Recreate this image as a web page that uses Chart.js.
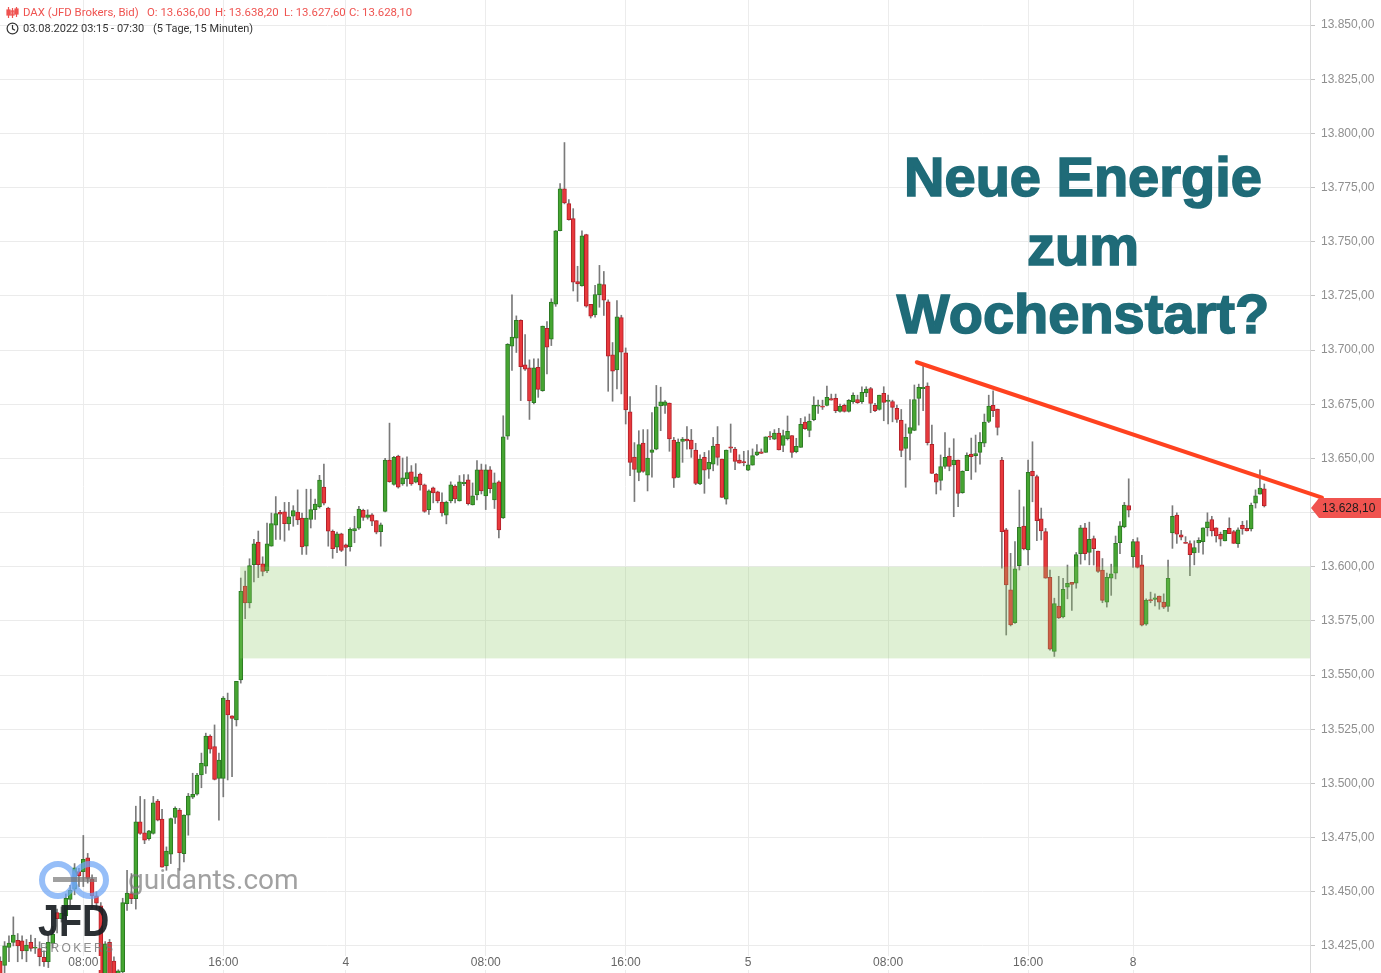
<!DOCTYPE html>
<html lang="de">
<head>
  <meta charset="UTF-8">
  <title>DAX 15 Minuten</title>
  <script src="https://cdn.jsdelivr.net/npm/chart.js"></script>
  <style>
    html, body { margin: 0; padding: 0; background: #fff; overflow: hidden; }
    #wrap { position: relative; width: 1381px; height: 973px; }
    #wrap canvas { position: absolute; left: 0; top: 0; }
    .hd { position: absolute; font-family: Roboto, Arial, sans-serif; font-size: 11.4px; white-space: pre; line-height: 13px; }
    .red { color: #ef5350; }
    .dark { color: #333; font-size: 11px; }
    #title { position: absolute; left: 870px; width: 426px; top: 143px; text-align: center;
      font-family: "Liberation Sans", Arial, sans-serif; font-weight: bold; font-size: 56px; line-height: 68.5px;
      color: #1f6b78; -webkit-text-stroke: 1.6px #1f6b78; }
    .wm { position: absolute; pointer-events: none; }
    #gd-text { left: 128px; top: 866px; font-family: Roboto, Arial, sans-serif; font-size: 28px; line-height: 28px; color: rgba(125,125,125,0.72); }
    .ring { width: 26px; height: 26px; border: 6px solid rgba(110,165,245,0.72); border-radius: 50%; top: 861px; }
    #dash { left: 53px; top: 877px; width: 44px; height: 5px; background: rgba(120,120,120,0.7); }
    #jfd { left: 38px; top: 898px; font-family: "Liberation Sans", Arial, sans-serif; font-weight: bold; font-size: 45px; line-height: 45px;
      color: rgba(25,30,35,0.92); transform: scaleX(0.84); transform-origin: left top; }
    #brokers { left: 40px; top: 941px; font-family: "Liberation Sans", Arial, sans-serif; font-size: 12px; letter-spacing: 2.4px; color: rgba(120,120,120,0.85); }
  </style>
</head>
<body>
<div id="wrap">
  <canvas id="chart"></canvas>

  <svg class="hd" style="left:6px;top:6px" width="13" height="13" viewBox="0 0 13 13">
    <g stroke="#ef5350" stroke-width="1.2" fill="none">
      <line x1="2.5" y1="1" x2="2.5" y2="12"/><rect x="1" y="4" width="3" height="5" fill="#ef5350"/>
      <line x1="6.5" y1="2" x2="6.5" y2="12"/><rect x="5" y="5" width="3" height="4"/>
      <line x1="10.5" y1="1" x2="10.5" y2="11"/><rect x="9" y="3" width="3" height="5" fill="#ef5350"/>
    </g>
  </svg>
  <span class="hd red" style="left:23px;top:6px">DAX (JFD Brokers, Bid)</span>
  <span class="hd red" style="left:147px;top:6px">O: 13.636,00</span>
  <span class="hd red" style="left:215px;top:6px">H: 13.638,20</span>
  <span class="hd red" style="left:284px;top:6px">L: 13.627,60</span>
  <span class="hd red" style="left:349px;top:6px">C: 13.628,10</span>

  <svg class="hd" style="left:6px;top:22px" width="13" height="13" viewBox="0 0 13 13">
    <circle cx="6.5" cy="6.5" r="5.4" stroke="#333" stroke-width="1.2" fill="none"/>
    <polyline points="6.5,3 6.5,6.8 9,8.3" stroke="#333" stroke-width="1.2" fill="none"/>
  </svg>
  <span class="hd dark" style="left:23px;top:22px">03.08.2022 03:15 - 07:30</span>
  <span class="hd dark" style="left:153px;top:22px">(5 Tage, 15 Minuten)</span>

  <div class="wm ring" style="left:39px"></div>
  <div class="wm ring" style="left:71px"></div>
  <div class="wm" id="dash"></div>
  <div class="wm" id="gd-text">guidants.com</div>
  <div class="wm" id="jfd">JFD</div>
  <div class="wm" id="brokers">BROKERS</div>

  <div id="title">Neue Energie<br>zum<br>Wochenstart?</div>
</div>

<script>
// DAX 15-Minuten-Kerzen, 03.08.2022 03:15 bis 08.08.2022 07:30 (Index 0..289)
const open = [
  13418, 13416, 13424.3, 13426.6, 13427.6, 13427.3, 13422.7, 13426.6, 13424, 13423.8,
  13419.7, 13417.7, 13426.1, 13440.4, 13437.6, 13438.9, 13446.5, 13451.2, 13459.3, 13459.3,
  13465.7, 13455.8, 13448.1, 13443.5, 13402, 13426.6, 13418, 13406, 13413, 13444.5,
  13449.1, 13446.8, 13482.3, 13477.2, 13474.5, 13476.9, 13491.8, 13483.5, 13461.9, 13467.3,
  13484.3, 13487.7, 13467.6, 13485.4, 13493.7, 13495, 13503.9, 13508, 13521.9, 13517,
  13502.3, 13502.3, 13538.3, 13531.2, 13529.3, 13547.8, 13591.1, 13583.3, 13601, 13611.4,
  13601.4, 13598.1, 13609.5, 13619.2, 13625.1, 13625.4, 13619.8, 13623.3, 13625.3, 13622.5,
  13609.5, 13621.8, 13626.4, 13627.7, 13636.8, 13627.1, 13616.4, 13609.1, 13615.2, 13610.1,
  13609.3, 13616.6, 13617.8, 13626.1, 13622.8, 13624, 13621.3, 13616.2, 13625.6, 13649.2,
  13638, 13651.1, 13638.2, 13640.5, 13643.8, 13639, 13642.8, 13637.8, 13626.3, 13636.4,
  13634.6, 13629.9, 13623.8, 13630.4, 13637.3, 13630.4, 13638.4, 13640.1, 13628.6, 13633.2,
  13644.7, 13632.7, 13644.7, 13630.9, 13639.2, 13622.6, 13660.3, 13701.8, 13705.5, 13713.8,
  13693.2, 13691.8, 13675.8, 13692.1, 13681.3, 13710.1, 13705.1, 13721.2, 13755.1, 13774.4,
  13767.6, 13760.7, 13731.6, 13729.6, 13753.3, 13721.1, 13716.2, 13725.6, 13730.2, 13722.3,
  13697.8, 13690.9, 13715, 13698.7, 13671.5, 13650.6, 13643.6, 13657.1, 13642.3, 13652.8,
  13654.3, 13674.2, 13674.5, 13675.6, 13658.5, 13641.2, 13657.9, 13658.9, 13658.5, 13653.9,
  13638.2, 13650.5, 13645.1, 13647.4, 13656.5, 13649.7, 13631.2, 13655.4, 13654.3, 13649.3,
  13648.5, 13644.6, 13646.9, 13651.6, 13653.1, 13652.8, 13660.3, 13658.9, 13661.7, 13656,
  13659.1, 13660.6, 13653.1, 13655.1, 13666.8, 13662.9, 13667.9, 13674.1, 13674.2, 13674.5,
  13677.6, 13677.7, 13671.7, 13674.5, 13671.7, 13676.2, 13677.2, 13676.2, 13680.3, 13682.3,
  13674.5, 13672.6, 13680, 13676.3, 13676.3, 13673.1, 13667.6, 13654.6, 13661.6, 13662.9,
  13677.7, 13682.2, 13683.4, 13656.5, 13642.7, 13639.9, 13646.3, 13651.1, 13647, 13649.3,
  13634.2, 13644.3, 13652, 13651.3, 13652.8, 13657, 13667.1, 13674.5, 13672.8, 13649.3,
  13617, 13589.3, 13574.2, 13600.5, 13618.8, 13607.8, 13644, 13641.6, 13622.1, 13616.2,
  13595.1, 13560.9, 13581.9, 13576.8, 13590.6, 13592.8, 13592.4, 13606.1, 13618, 13606.6,
  13613, 13607.3, 13598.5, 13583.7, 13594.7, 13597, 13611.1, 13618.4, 13628.2, 13604.7,
  13611.6, 13600.9, 13573.5, 13584.8, 13584.9, 13586.5, 13583.7, 13581.7, 13615.6, 13623.9,
  13614.8, 13611.1, 13610.7, 13606.4, 13611, 13611.6, 13618, 13621.8, 13618, 13615,
  13611.9, 13617.7, 13616.2, 13610.7, 13619.1, 13617.7, 13617.5, 13629.4, 13633.5, 13636
];
const high = [
  13420, 13427, 13429.6, 13438.4, 13430.7, 13429.7, 13428, 13430, 13428.5, 13426.9,
  13422.7, 13430, 13434, 13442, 13443, 13449, 13453, 13463, 13460.8, 13476,
  13467.7, 13457.8, 13450, 13445, 13427, 13428, 13420, 13414, 13447, 13459.9,
  13458.4, 13489.5, 13494, 13492.6, 13478.4, 13494, 13492.6, 13488, 13470.7, 13484,
  13489.2, 13488.5, 13485.5, 13495.4, 13504.7, 13504.7, 13514, 13523.2, 13522.4, 13527,
  13514, 13540.1, 13541.7, 13531.2, 13547.1, 13594.8, 13598, 13603.7, 13612.7, 13616.5,
  13604.6, 13620.2, 13624.8, 13632.4, 13626, 13629.7, 13629.7, 13628.2, 13635.5, 13624.8,
  13635.8, 13635.8, 13631.2, 13642.2, 13647.4, 13627.5, 13617, 13616, 13615.5, 13610.5,
  13618, 13623.3, 13627.9, 13626.6, 13626.3, 13624.5, 13621.3, 13620.2, 13650, 13666.3,
  13651, 13651.5, 13650.2, 13650.7, 13646.7, 13647.6, 13643.3, 13638.2, 13635.5, 13636.8,
  13634.9, 13634.1, 13630.3, 13639.2, 13637.8, 13642.1, 13642.5, 13642.5, 13638.7, 13649,
  13647.4, 13647.1, 13646.3, 13643.3, 13639.7, 13669.7, 13703, 13725.5, 13715.8, 13714,
  13707.2, 13695.5, 13696, 13696, 13711.1, 13713.2, 13723.7, 13755.2, 13776.9, 13795.8,
  13769.5, 13765.3, 13738.7, 13755, 13753.5, 13721.1, 13729.9, 13739.1, 13736.3, 13723.2,
  13703.5, 13722.9, 13716.1, 13701, 13678.5, 13657.3, 13662.8, 13663.3, 13663.3, 13671.2,
  13683.7, 13682.9, 13676.7, 13675.6, 13659.7, 13659, 13659.7, 13664.7, 13663.4, 13657,
  13651.7, 13652.8, 13653.6, 13659.7, 13664.7, 13649.7, 13653.9, 13665.9, 13655.1, 13651.7,
  13653.3, 13653.6, 13654.4, 13656.4, 13654.4, 13660, 13662.4, 13663.3, 13663.9, 13663.1,
  13669.6, 13660.6, 13659.3, 13668.5, 13669.2, 13670.5, 13678.5, 13676.9, 13676.9, 13683.4,
  13679.7, 13679.7, 13675.1, 13675.1, 13677.2, 13680.3, 13679.2, 13683.1, 13683.1, 13682.8,
  13675.4, 13679.2, 13683.1, 13679.2, 13676.9, 13674.6, 13672.6, 13665.9, 13677.2, 13683.9,
  13684.3, 13693.1, 13684.9, 13665.4, 13643.1, 13651.6, 13661.9, 13654.8, 13659.1, 13649.3,
  13644.3, 13652.6, 13659.4, 13660.8, 13661.9, 13670.5, 13679.2, 13681.2, 13672.8, 13650.5,
  13617.7, 13606.2, 13611.6, 13635.4, 13627.7, 13649.3, 13657.7, 13642.3, 13627.1, 13617.7,
  13598.5, 13585.5, 13595.6, 13594.7, 13600.8, 13592.8, 13606.6, 13619.1, 13620, 13620.6,
  13614.2, 13607.3, 13603.8, 13597.1, 13601.2, 13614.2, 13620.9, 13629.7, 13640.6, 13612.7,
  13613.4, 13605.3, 13585.2, 13588.3, 13587.5, 13586.5, 13587.5, 13603.1, 13628.2, 13624.9,
  13616.8, 13613.9, 13612, 13612, 13613.4, 13618, 13624.9, 13623.3, 13618, 13616,
  13616.8, 13622.6, 13616.8, 13618, 13621, 13621.3, 13629.4, 13635.5, 13644.7, 13638.2
];
const low = [
  13408, 13412, 13417.7, 13425, 13417.7, 13419, 13417.7, 13422.6, 13421.5, 13415.8,
  13415.5, 13415, 13424, 13431, 13436, 13437, 13444, 13448.6, 13452.4, 13452.4,
  13454, 13442.5, 13441.8, 13396, 13398, 13400, 13396, 13400, 13410, 13441.4,
  13444.5, 13442, 13476.5, 13472.2, 13473.8, 13476.6, 13482.7, 13461.4, 13459.9, 13463,
  13481.5, 13459.9, 13463.8, 13476.1, 13493, 13494.6, 13498, 13504.6, 13514, 13501.6,
  13483, 13493.8, 13501.6, 13503.1, 13526.5, 13546.3, 13576, 13581, 13593, 13595,
  13595.8, 13597.3, 13609.5, 13612.6, 13612.6, 13611.8, 13616.9, 13618.7, 13619.5, 13605.7,
  13605.7, 13617.9, 13621.8, 13627.1, 13628.5, 13609.5, 13603.9, 13606.5, 13607, 13600.4,
  13607.2, 13611.1, 13617.2, 13621.4, 13622, 13619, 13615.2, 13609.5, 13625.3, 13639,
  13637.7, 13636.3, 13637.6, 13637.2, 13637.6, 13638.7, 13635.3, 13625.1, 13624.2, 13629.5,
  13629.5, 13623.3, 13619.8, 13629.5, 13629.5, 13630.3, 13637.4, 13628.5, 13628.5, 13630.9,
  13633.6, 13626.4, 13634.1, 13626.9, 13613.3, 13622.3, 13658.8, 13690.6, 13698.9, 13676.7,
  13690.6, 13668, 13675.2, 13678.2, 13681, 13689, 13702.1, 13720.2, 13755, 13767.5,
  13760, 13727.3, 13722.5, 13729.5, 13719.8, 13714.8, 13715.2, 13719.8, 13716, 13681,
  13676.4, 13682.1, 13679.8, 13665.9, 13642, 13630.1, 13639.7, 13643.6, 13635, 13641.3,
  13654, 13662.8, 13670.8, 13653.3, 13636.6, 13641.2, 13648.2, 13654.3, 13650.5, 13637.9,
  13637.9, 13633.9, 13640.8, 13644.3, 13646.9, 13632, 13628.9, 13652.8, 13644.8, 13647.8,
  13646.6, 13644.3, 13646.9, 13651.3, 13652.3, 13652.8, 13658.7, 13658.7, 13653.9, 13653.1,
  13658.5, 13650.5, 13652.6, 13655.1, 13663.4, 13660, 13667.4, 13670.8, 13672.6, 13674.2,
  13676.9, 13671.1, 13671.4, 13671.4, 13671.4, 13675.4, 13675.4, 13675.4, 13678.5, 13671.1,
  13671.6, 13672.3, 13667.4, 13665.9, 13666.9, 13666.6, 13650.8, 13636.7, 13649.3, 13662.8,
  13665.4, 13672, 13656.2, 13643.1, 13633.6, 13635.4, 13645.4, 13644.3, 13623.1, 13627.7,
  13633.9, 13644.3, 13640.3, 13643.7, 13647.4, 13655.4, 13666.5, 13669.3, 13660.8, 13599.3,
  13568.5, 13572.7, 13573.9, 13598.5, 13607.8, 13600.8, 13630, 13612.1, 13612.4, 13594.7,
  13561.5, 13558.6, 13576.1, 13576.4, 13585.2, 13579.9, 13590.1, 13601.2, 13603.2, 13600.9,
  13600.8, 13597.4, 13583.4, 13581.4, 13586.8, 13594.4, 13606.1, 13618, 13623, 13599.7,
  13599.4, 13572.7, 13573, 13583.4, 13581.9, 13580.4, 13580.7, 13579.4, 13608.5, 13610.8,
  13612.4, 13610.8, 13595.9, 13600.9, 13606.6, 13605.8, 13614.2, 13614.2, 13611.4, 13609.6,
  13611.9, 13615.3, 13610.8, 13608.9, 13615, 13616.5, 13616.5, 13627.1, 13633.5, 13627.6
];
const close = [
  13412, 13425, 13426.3, 13430, 13425, 13422.7, 13425.4, 13423.8, 13424.5, 13420,
  13417.7, 13426.6, 13430.4, 13437.6, 13440, 13447, 13450.7, 13461.1, 13457.3, 13465,
  13456.1, 13448.1, 13444.7, 13400, 13426, 13405, 13404, 13413.5, 13445, 13449.4,
  13446.8, 13482.3, 13476.9, 13473.8, 13478.1, 13491.1, 13483, 13461.4, 13468.8, 13483.8,
  13488.5, 13468, 13485.4, 13494.2, 13495, 13503.9, 13509.3, 13521.9, 13515.8, 13501.9,
  13510.8, 13539.4, 13531.6, 13530, 13547.1, 13588.7, 13583.3, 13600.6, 13610.6, 13601,
  13597.8, 13610.6, 13619.9, 13624.6, 13624.3, 13619.9, 13623, 13625.9, 13621.6, 13609.2,
  13622.5, 13626.4, 13628.9, 13640, 13629.3, 13616.4, 13608.3, 13615.2, 13607.5, 13608.9,
  13617.3, 13617.6, 13626.6, 13622.8, 13624, 13621, 13616, 13619.4, 13649.2, 13639.3,
  13650.5, 13636.7, 13641, 13643.5, 13638.2, 13641.5, 13637.8, 13625.6, 13635, 13634.1,
  13630.4, 13624.9, 13629.9, 13637.8, 13631.3, 13639.2, 13639, 13629.1, 13632.7, 13644.7,
  13635, 13644.7, 13636, 13638.7, 13617, 13660, 13702.7, 13706, 13713.8, 13692.4,
  13691.2, 13676.5, 13691.8, 13681.9, 13711.1, 13701.4, 13722.2, 13755.1, 13774.4, 13767.9,
  13760.2, 13731.4, 13730.5, 13752.8, 13720.3, 13715.7, 13725.6, 13730.6, 13723.1, 13697.2,
  13690.3, 13715.4, 13699.1, 13672.4, 13648.2, 13644.9, 13656.4, 13644, 13650.2, 13654,
  13673.8, 13676.1, 13676.1, 13659, 13640.9, 13657.6, 13658.9, 13658.1, 13654.3, 13638.5,
  13649.7, 13644.6, 13648.2, 13655.7, 13650.5, 13632, 13653.9, 13654.7, 13648.6, 13647.8,
  13648, 13647.1, 13651.3, 13653, 13652.3, 13660, 13659.8, 13661.7, 13653.9, 13660.6,
  13662.5, 13652.8, 13655.6, 13665.7, 13663.7, 13667.3, 13674.5, 13674.6, 13673.7, 13678.2,
  13676.9, 13672, 13674, 13671.7, 13676.8, 13679.1, 13675.7, 13680.5, 13682, 13675.4,
  13672, 13679.2, 13675.9, 13676.9, 13673.6, 13668, 13653.7, 13659.7, 13664.3, 13677.2,
  13682.8, 13682.8, 13657.3, 13643.1, 13639, 13646.3, 13650.5, 13646.3, 13649.3, 13633.9,
  13644, 13651.4, 13650.8, 13652.3, 13657.4, 13666.8, 13674.2, 13672, 13664.3, 13616.2,
  13591.6, 13573.2, 13599, 13618.2, 13608.2, 13643.6, 13641.9, 13621.3, 13616.5, 13594.7,
  13562, 13583, 13576.4, 13589.6, 13592.4, 13591.8, 13605.6, 13618, 13606.1, 13612.7,
  13608.4, 13597.9, 13584.5, 13595.1, 13596.7, 13610.8, 13618.9, 13628.5, 13626.1, 13611.6,
  13599.7, 13573, 13584.6, 13584.3, 13585.7, 13583.7, 13581.3, 13594.7, 13623.3, 13615.1,
  13613.7, 13610.8, 13605.6, 13608.9, 13612.2, 13618, 13620.7, 13616.5, 13614.2, 13612.7,
  13616.8, 13615.3, 13610.8, 13617.1, 13617.5, 13616.5, 13628.5, 13632.7, 13636.3, 13628.1
];

// Zeitachse: Index der Kerze und Beschriftung
const tickIdx = [19, 51, 79, 111, 143, 171, 203, 235, 259];
const tickLabels = ['08:00', '16:00', '4', '08:00', '16:00', '5', '08:00', '16:00', '8'];

// sichtbarer Bereich
const xMin = -0.05, xMax = 299.45;
const yMin = 13412.5, yMax = 13861.6;

// Unterstuetzungszone und Trendlinie
const zoneFrom = 54.85;
const zoneHigh = 13600, zoneLow = 13557.7;
const trendX = [209.55, 302.2];
const trendY = [13694.4, 13631.9];

const upFill = '#45a531', upLine = '#2b7a22';
const downFill = '#e8393c', downLine = '#b3212a';

function fmt(v, d) {
  let s = v.toFixed(d === undefined ? 2 : d);
  let [a, b] = s.split('.');
  a = a.replace(/\B(?=(\d{3})+(?!\d))/g, '.');
  return a + ',' + b;
}

const up = close.map((c, i) => c >= open[i]);
const bodies = open.map((o, i) => ({ x: i, y: [o, close[i]] }));
const wicks = open.map((o, i) => ({
  x: i,
  y: [Math.min(low[i], o, close[i]), Math.max(high[i], o, close[i])]
}));

const overlay = {
  id: 'overlay',
  afterDatasetsDraw(chart) {
    const { ctx, chartArea, scales: { x, y } } = chart;
    ctx.save();
    const zx = x.getPixelForValue(zoneFrom);
    const zt = y.getPixelForValue(zoneHigh);
    const zb = y.getPixelForValue(zoneLow);
    ctx.fillStyle = 'rgba(140, 200, 100, 0.28)';
    ctx.fillRect(zx, zt, chartArea.right - zx, zb - zt);
    ctx.restore();
  },
  afterDraw(chart) {
    const { ctx, chartArea, scales: { x, y } } = chart;
    ctx.save();
    // Trendlinie
    ctx.strokeStyle = '#ff4220';
    ctx.lineWidth = 4;
    ctx.lineCap = 'round';
    ctx.beginPath();
    ctx.moveTo(x.getPixelForValue(trendX[0]), y.getPixelForValue(trendY[0]));
    ctx.lineTo(x.getPixelForValue(trendX[1]), y.getPixelForValue(trendY[1]));
    ctx.stroke();

    // Zeitachse
    ctx.font = '12px "Liberation Sans", Arial, sans-serif';
    ctx.textAlign = 'center';
    ctx.textBaseline = 'middle';
    tickIdx.forEach((v, k) => {
      const px = x.getPixelForValue(v);
      const w = ctx.measureText(tickLabels[k]).width;
      ctx.fillStyle = '#fff';
      ctx.fillRect(px - w / 2 - 2, 956, w + 4, 14);
      ctx.fillStyle = '#666';
      ctx.fillText(tickLabels[k], px, 963);
    });

    // letzter Kurs
    const last = close[close.length - 1];
    const py = y.getPixelForValue(last) + 2;
    const r = chartArea.right;
    ctx.fillStyle = '#f0534f';
    ctx.beginPath();
    ctx.moveTo(r + 1, py);
    ctx.lineTo(r + 9, py - 10);
    ctx.lineTo(1381, py - 10);
    ctx.lineTo(1381, py + 10);
    ctx.lineTo(r + 9, py + 10);
    ctx.closePath();
    ctx.fill();
    ctx.fillStyle = '#1c1c1c';
    ctx.textAlign = 'left';
    ctx.font = '12px "Liberation Sans", Arial, sans-serif';
    ctx.fillText(fmt(last), r + 12, py + 1);
    ctx.restore();
  }
};

new Chart(document.getElementById('chart'), {
  type: 'bar',
  data: {
    datasets: [
      {
        label: 'Koerper',
        data: bodies,
        order: 0,
        grouped: false,
        barThickness: 4,
        minBarLength: 1,
        borderWidth: 1,
        borderSkipped: false,
        backgroundColor: up.map(u => u ? upFill : downFill),
        borderColor: up.map(u => u ? upLine : downLine)
      },
      {
        label: 'Dochte',
        data: wicks,
        order: 1,
        grouped: false,
        barThickness: 1,
        borderWidth: 0,
        backgroundColor: '#7a7a7a'
      }
    ]
  },
  options: {
    responsive: true,
    maintainAspectRatio: false,
    animation: false,
    layout: { padding: 0, autoPadding: false },
    plugins: { legend: { display: false }, tooltip: { enabled: false } },
    scales: {
      x: {
        type: 'linear',
        min: xMin,
        max: xMax,
        offset: false,
        afterBuildTicks: axis => { axis.ticks = tickIdx.map(v => ({ value: v })); },
        afterFit: axis => { axis.height = 0; axis.paddingLeft = 0; axis.paddingRight = 0; },
        ticks: { display: false },
        grid: { color: '#ececec', drawTicks: false, offset: false },
        border: { display: false }
      },
      y: {
        position: 'right',
        min: yMin,
        max: yMax,
        beginAtZero: false,
        afterFit: axis => { axis.width = 71; axis.paddingTop = 0; axis.paddingBottom = 0; },
        ticks: {
          stepSize: 25,
          includeBounds: false,
          padding: 6,
          color: '#8f8f8f',
          font: { family: '"Liberation Sans", Arial, sans-serif', size: 12 },
          callback: v => fmt(v)
        },
        grid: { color: '#ebebeb', tickLength: 5, tickColor: '#c4c4c4' },
        border: { color: '#d8d8d8' }
      }
    }
  },
  plugins: [overlay]
});
</script>
</body>
</html>
